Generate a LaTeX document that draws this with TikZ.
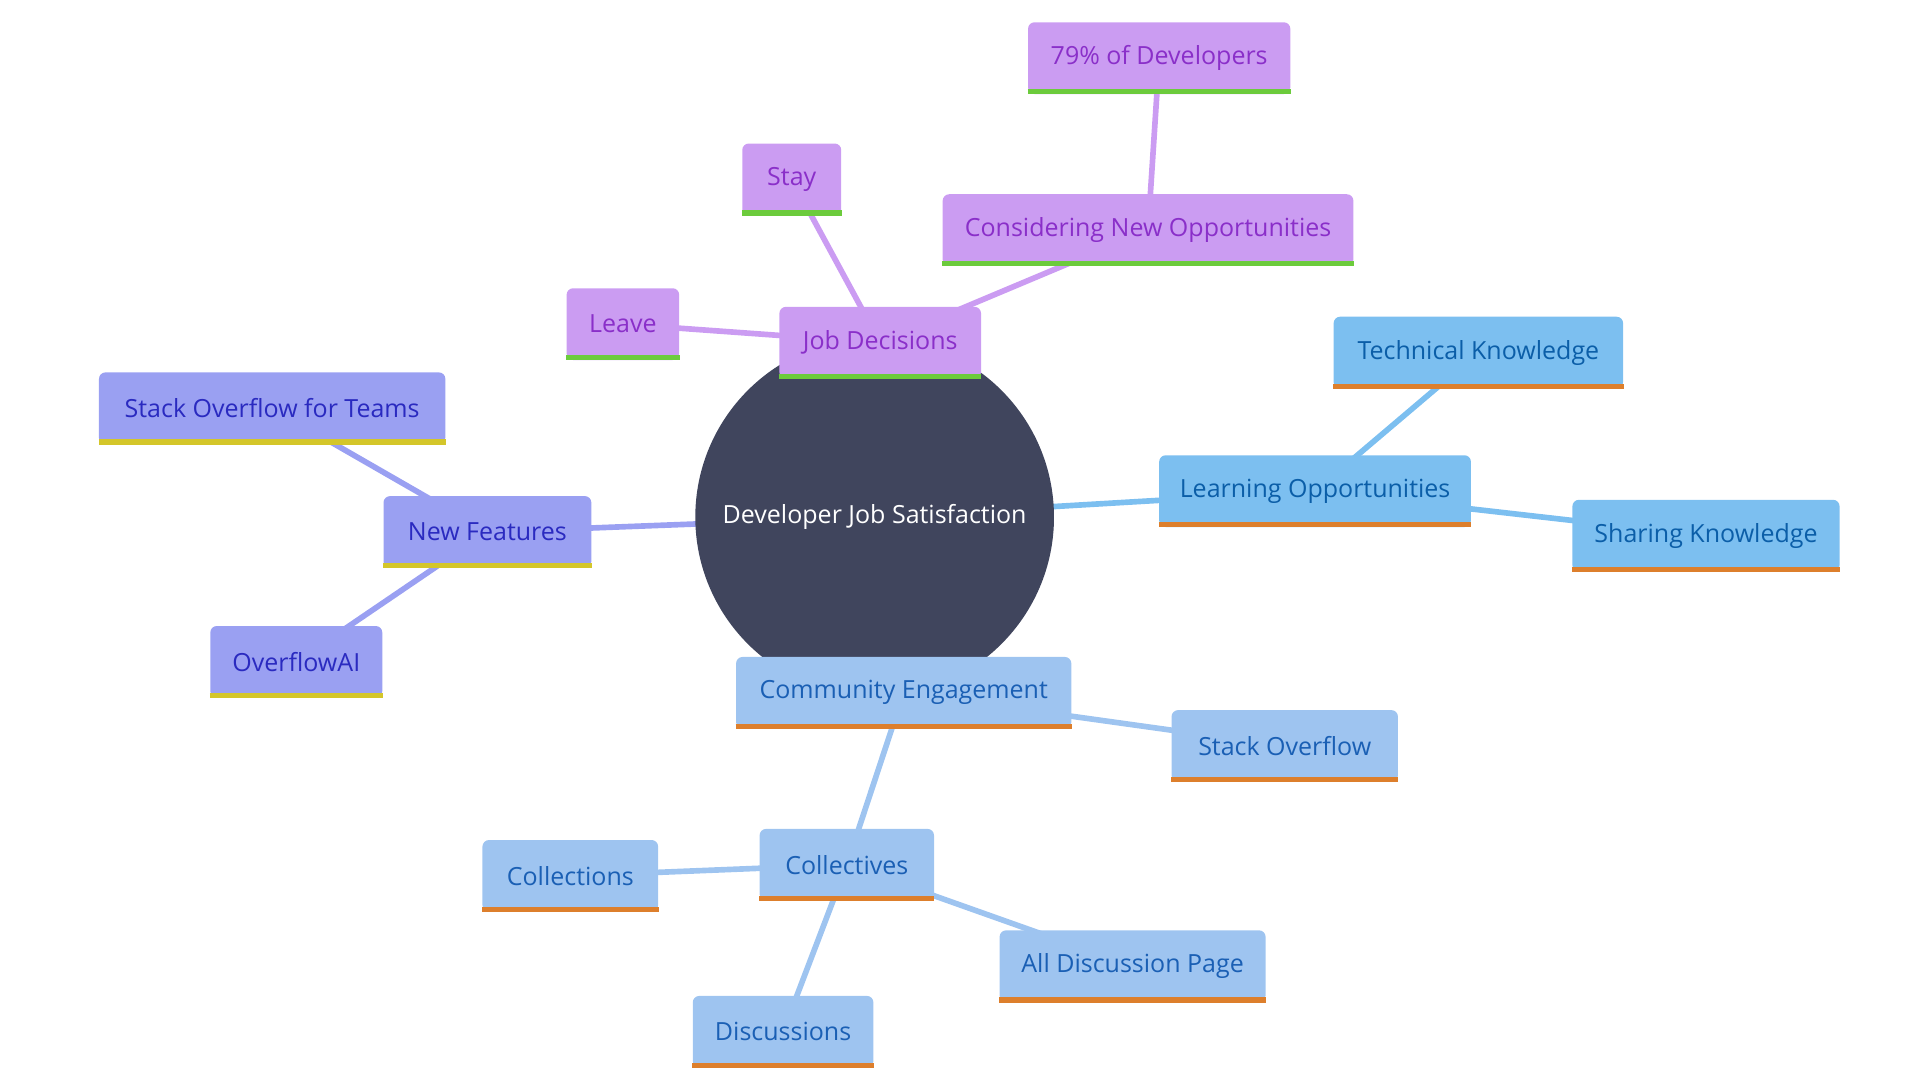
\documentclass[tikz,border=0pt]{standalone}
\usepackage{fontspec}
\setmainfont{Open Sans}
\usetikzlibrary{backgrounds}
\definecolor{rootc}{HTML}{40455D}
\definecolor{purf}{HTML}{CB9CF2}\definecolor{purt}{HTML}{8A2FC9}\definecolor{purb}{HTML}{6CCB3C}
\definecolor{lbf}{HTML}{7CBFF0}\definecolor{lbt}{HTML}{0B5EA8}\definecolor{orb}{HTML}{DD7F2C}
\definecolor{cbf}{HTML}{9EC4F0}\definecolor{cbt}{HTML}{1A5FB4}
\definecolor{nff}{HTML}{9AA0F2}\definecolor{nft}{HTML}{2A2AC0}\definecolor{yb}{HTML}{D4C62A}
\tikzset{
 bx/.style 2 args={rectangle, rounded corners=3pt, fill=#1, text=#2, minimum height=1.16cm, inner sep=0pt,
   font=\fontsize{11.5}{13}\selectfont},
 pur/.style={bx={purf}{purt}},
 lb/.style={bx={lbf}{lbt}},
 cb/.style={bx={cbf}{cbt}},
 nf/.style={bx={nff}{nft}},
 w/.style={minimum width=#1*0.02cm},
 ed/.style={line width=2.6pt, draw=#1},
 bl/.style={line width=2.4pt, draw=#1}
}
\begin{document}
\begin{tikzpicture}[x=0.02cm,y=-0.02cm]
\useasboundingbox (0,0) rectangle (1552,873);
\node[circle, fill=rootc, minimum size=5.8cm, text=white, font=\fontsize{11.5}{13}\selectfont] (root) at (707,418) {Developer Job Satisfaction};
\node[pur,w=163] (jd) at (711.5,277) {Job Decisions};
\node[pur,w=80] (stay) at (640,145) {Stay};
\node[pur,w=91] (leave) at (503.5,262) {Leave};
\node[pur,w=332] (cno) at (928,186) {Considering New Opportunities};
\node[pur,w=212] (p79) at (937,47) {79\% of Developers};
\node[lb,w=252] (lo) at (1063,397) {Learning Opportunities};
\node[lb,w=234] (tk) at (1195,285) {Technical Knowledge};
\node[lb,w=216] (sk) at (1379,433) {Sharing Knowledge};
\node[cb,w=271] (ce) at (730.5,560) {Community Engagement};
\node[cb,w=183] (so) at (1038.5,603) {Stack Overflow};
\node[cb,w=141] (col) at (684.5,699) {Collectives};
\node[cb,w=142] (cln) at (461,708) {Collections};
\node[cb,w=146] (dis) at (633,834) {Discussions};
\node[cb,w=215] (adp) at (915.5,781) {All Discussion Page};
\node[nf,w=168] (nfe) at (394,430) {New Features};
\node[nf,w=280] (sot) at (220,330) {Stack Overflow for Teams};
\node[nf,w=139] (oai) at (239.5,535) {OverflowAI};
\foreach \n in {jd,stay,leave,cno,p79}
  \draw[bl=purb] ([yshift=1.2pt]\n.south west) -- ([yshift=1.2pt]\n.south east);
\foreach \n in {lo,tk,sk,ce,so,col,cln,dis,adp}
  \draw[bl=orb] ([yshift=1.2pt]\n.south west) -- ([yshift=1.2pt]\n.south east);
\foreach \n in {nfe,sot,oai}
  \draw[bl=yb] ([yshift=1.2pt]\n.south west) -- ([yshift=1.2pt]\n.south east);
\begin{scope}[on background layer]
\draw[ed=purf] (root.center) -- (jd.center);
\draw[ed=purf] (jd.center) -- (stay.center);
\draw[ed=purf] (jd.center) -- (leave.center);
\draw[ed=purf] (jd.center) -- (cno.center);
\draw[ed=purf] (cno.center) -- (p79.center);
\draw[ed=lbf] (root.center) -- (lo.center);
\draw[ed=lbf] (lo.center) -- (tk.center);
\draw[ed=lbf] (lo.center) -- (sk.center);
\draw[ed=cbf] (root.center) -- (ce.center);
\draw[ed=cbf] (ce.center) -- (so.center);
\draw[ed=cbf] (ce.center) -- (col.center);
\draw[ed=cbf] (col.center) -- (cln.center);
\draw[ed=cbf] (col.center) -- (dis.center);
\draw[ed=cbf] (col.center) -- (adp.center);
\draw[ed=nff] (root.center) -- (nfe.center);
\draw[ed=nff] (nfe.center) -- (sot.center);
\draw[ed=nff] (nfe.center) -- (oai.center);
\end{scope}
\end{tikzpicture}
\end{document}
